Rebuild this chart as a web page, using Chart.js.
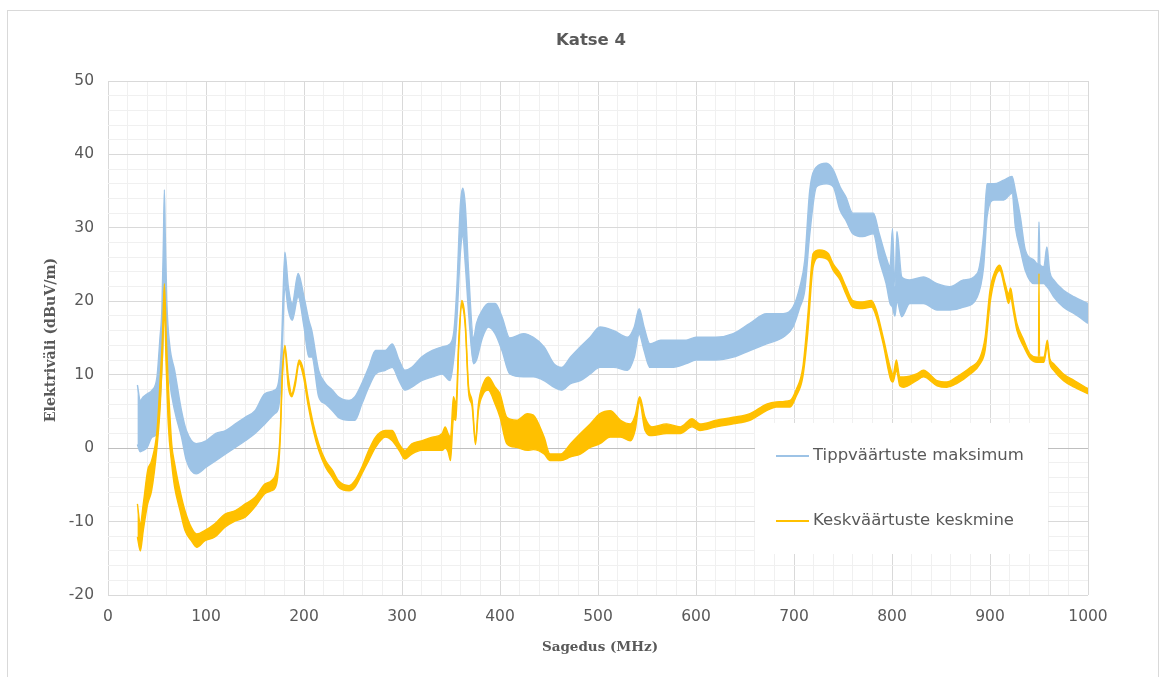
<!DOCTYPE html>
<html>
<head>
<meta charset="utf-8">
<script src="https://cdn.jsdelivr.net/npm/chart.js@4/dist/chart.umd.min.js"></script>
<style>
  html, body { margin: 0; padding: 0; background: #ffffff; }
  #wrap { position: relative; width: 1169px; height: 677px; overflow: hidden; }
  #frame { position: absolute; left: 7px; top: 10px; width: 1152px; height: 700px; border: 1px solid #d9d9d9; box-sizing: border-box; pointer-events: none; }
  canvas { position: absolute; left: 0; top: 0; }
</style>
</head>
<body>
<div id="wrap">
  <canvas id="c" width="1169" height="677"></canvas>
  <div id="frame"></div>
</div>
<script>
// ---------- DATA ----------
const chartTitle = "Katse 4";
const xAxisTitle = "Sagedus (MHz)";
const yAxisTitle = "Elektriväli (dBuV/m)";
const seriesNames = ["Tippväärtuste maksimum", "Keskväärtuste keskmine"];
const xTickLabels = [0, 100, 200, 300, 400, 500, 600, 700, 800, 900, 1000];
const yTickLabels = [-20, -10, 0, 10, 20, 30, 40, 50];

// Series 1: peak values maximum (upper / lower edge of the noisy trace)
const freqMax = [30,33,36,40,45,50,53,55,56.5,57.5,58.5,60,63,68,75,80,90,100,110,120,130,140,150,160,170,174,177,180.5,184,188,194,200,205,208,215,222,229,235,246,252,259,266,273,283,290,297,303,310,320,331,341,349,353,356,359.5,362,364.6,368,373,376,382,388,395,402,410,424,434,445,455,463,472,482,492,502,516,530,537,542,547,553,564,575,590,600,620,638,655,672,689,699,706,711,716,723,733,740,747,753,760,770,781,787,794,798,800.5,803,805,810,818,832,846,859,873,887,893.5,897,904,914,922.5,926,931,936,945,949,950,951,955,958,961,965,975,986,1000];
const maxHigh = [8.6,6.5,7.0,7.4,7.9,9.7,15.0,19.0,28,35.2,28.8,20,14,10.6,5.1,2.4,0.6,1.0,2.0,2.4,3.3,4.2,5.1,7.4,7.9,9,14,26.7,22,19.7,23.8,20.6,17.4,16,10.6,8.8,7.9,7,6.5,7,8.8,11,13.3,13.3,14.2,12,10.6,11,12.4,13.3,13.8,14.2,16,22,33,35.4,33,24,15,17,18.8,19.7,19.7,17.9,15,15.6,15.1,13.8,11.5,11,12.4,13.8,15.1,16.5,16,15.1,16.5,19,16.5,14.2,14.7,14.7,14.7,15.1,15.1,15.6,17,18.3,18.3,19.2,22,25.6,35,38.3,38.8,37.9,35.6,34.2,32,32,32,29.2,26,24.7,29.9,22,29.5,23.3,22.9,23.3,22.4,22,22.9,23.8,29.2,36,36,36.5,37,35,31.5,27,25.6,25,30.8,25,24.7,27.4,24,22.9,21.5,20.6,19.7];
const maxLow  = [0.5,-0.5,-0.3,0.1,1.5,2.0,6.0,10.6,16,25,19.7,14,9,5.1,1.5,-1.7,-3.5,-2.6,-1.7,-0.8,0.1,1.0,2.0,3.3,4.7,5.5,10,22,18.8,17.4,20.6,16.5,12.4,12.4,7,6,5.1,4.2,3.8,3.8,6,8.3,10.1,10.6,11,9.2,7.9,8.3,9.2,9.7,10.1,9.2,12.4,17.4,26.5,29,25,18.3,11.5,12,15,16.5,15.6,13.3,10.1,9.7,9.7,9.2,8.3,7.9,8.8,9.2,10.1,11,11,10.6,12.4,15.5,13.3,11,11,11,11.5,12,12,12.4,13.3,14.2,15.1,16.5,19.2,21.5,29,35.6,36,35.6,32.4,31,29.2,28.8,29.2,25.6,22.4,19.7,19.2,18,20,17.9,19.7,19.7,18.8,18.8,19.2,20.6,24.7,31.5,33.8,33.8,34.7,30,27,24.2,22.4,22.4,22.4,22.4,22.4,22,21.5,20.6,19.2,18.3,17];

// Series 2: average values mean (upper / lower edge of the trace)
const freqAvg = [30,33,36,40.5,44.5,50,53,55.5,57.5,59.5,61.5,65,68,73.5,78.5,85,90.5,99,109,119,130,140,150,160,167,172,175.5,178,180.5,184,187.5,191,195,199.5,204,209.5,215,222,229,235,246,252,259,266,273,283,290,297,303,310,320,331,341,344,347,349.5,352.5,355,358,361,364.5,368,371.5,375,378,383,388,395,400,407,417,428,434,445,451,462,472,482,492,502,512.5,523,533,538,542.5,548,555,570,584,596,604,621,638,655,672,682,696,702,709,714,719.5,726,735,740,747,753,760,770,779,784,791,799,801,804.5,808,812,825,832,846,856,866,880,890,895,900,905.5,910,915.5,919,921,924,927.5,934.5,941,948,949.5,950,950.5,955,958.5,961,965,975,986,1000];
const avgHigh = [-7.6,-10.3,-7.6,-3,-1.7,2.4,8.8,15,22.4,15,8.8,0.6,-2.1,-5.8,-8.5,-10.8,-11.7,-11.2,-10.3,-9,-8.5,-7.6,-6.7,-4.9,-4.4,-3,1.5,10.6,14,9.7,7.4,9.2,12,10.6,7,3.3,0.6,-1.7,-3,-4.4,-5.1,-4.4,-2.6,-0.3,1.5,2.4,2.4,0.6,-0.3,0.6,1,1.5,2,2.9,2,1.5,7,6,15,20.1,17.4,8.3,6.5,1,6,8.8,9.7,8.3,7.4,4.2,3.8,4.7,4.5,1.5,-0.8,-0.8,0.6,2,3.3,4.7,5.1,3.8,3.3,4.5,7,4.2,2.9,3.3,2.9,4,3.3,3.8,4.2,4.7,6,6.3,6.5,7.9,11,17.9,26.5,27,26.5,25.1,23.8,22,20.1,19.9,20.1,18.8,15.1,10.6,10,12,9.7,9.7,10.1,10.6,9.2,9,9.7,11,12.4,15.1,21.5,24.2,24.9,22.4,21,21.8,19.5,17,14.7,12.8,12.4,12.4,23.8,12.4,12.4,14.7,12.2,11.5,10.1,9.2,8.1];
const avgLow  = [-12.1,-14,-11.2,-7.6,-5.8,0.1,5.1,12.4,19,10.6,3.3,-2.1,-5.3,-8.5,-11.2,-12.6,-13.5,-12.6,-12.1,-10.8,-9.9,-9.4,-8,-6.2,-5.8,-4.9,0.5,9.8,13.2,8.3,7,8.5,11.5,9.7,6,2.4,-0.3,-2.6,-4,-5.3,-5.8,-5.3,-3.5,-1.7,0.1,1.5,1,-0.3,-1.5,-0.8,-0.3,-0.3,-0.3,0,-0.5,-1.7,4,3.8,14,19.3,16.6,7.5,5.7,0.5,5.1,7.4,7.9,6,4.2,0.6,0.1,-0.3,-0.2,-0.8,-1.7,-1.7,-1.2,-0.8,0.1,0.6,1.5,1.5,1,2.5,6.2,2.4,1.7,2,2,2.9,2.4,2.9,3.3,3.8,5.1,5.6,5.6,7,9.7,15.6,24.7,26,25.6,24.2,22.9,21,19.2,19,19.2,17.9,14.2,9.2,9,10.6,8.5,8.3,9.2,9.7,8.5,8.3,8.8,10.1,11.5,13.3,19.7,23.3,24.2,21.5,19.7,20.5,18.5,16,13.8,12.2,11.7,11.7,11.7,11.7,11.7,13.8,11.5,10.6,9.2,8.3,7.4];

// ---------- STYLE ----------
const colorMax = "#9dc3e6";
const colorAvg = "#ffc000";
const textColor = "#595959";

function pts(xs, ys) { return xs.map((x, i) => ({ x: x, y: ys[i] })); }

const decorPlugin = {
  id: "decor",
  afterDraw(chart) {
    const ctx = chart.ctx;
    const ca = chart.chartArea;
    ctx.save();
    // chart title
    ctx.fillStyle = textColor;
    ctx.textAlign = "center";
    ctx.textBaseline = "middle";
    ctx.font = "bold 16.5px 'DejaVu Sans'";
    ctx.fillText(chartTitle, 591, 41);
    // axis titles
    ctx.font = "bold 13.5px 'DejaVu Serif'";
    ctx.fillText(xAxisTitle, 600, 647);
    ctx.save();
    ctx.translate(51, 340);
    ctx.rotate(-Math.PI / 2);
    ctx.font = "bold 14.2px 'DejaVu Serif'";
    ctx.fillText(yAxisTitle, 0, 0);
    ctx.restore();
    // legend box
    const bx = 755, by = 423, bw = 293, bh = 131;
    ctx.fillStyle = "#ffffff";
    ctx.fillRect(bx, by, bw, bh);
    const items = [[seriesNames[0], colorMax, 456], [seriesNames[1], colorAvg, 521]];
    ctx.font = "16.5px 'DejaVu Sans'";
    ctx.textAlign = "left";
    items.forEach(([label, col, y]) => {
      ctx.strokeStyle = col;
      ctx.lineWidth = 2;
      ctx.beginPath();
      ctx.moveTo(776, y);
      ctx.lineTo(809, y);
      ctx.stroke();
      ctx.fillStyle = textColor;
      ctx.fillText(label, 813, y);
    });
    ctx.restore();
  }
};

function gridColorY(c) {
  const v = c.tick ? c.tick.value : 0;
  if (Math.abs(v) < 1e-6) return "#bfbfbf";
  if (Math.abs(v % 10) < 1e-6) return "#d9d9d9";
  return "#f0f0f0";
}
function gridColorX(c) {
  const v = c.tick ? c.tick.value : 0;
  if (Math.abs(v % 100) < 1e-6) return "#d9d9d9";
  return "#f0f0f0";
}

new Chart(document.getElementById("c"), {
  type: "line",
  data: {
    datasets: [
      { label: seriesNames[1], data: pts(freqAvg, avgHigh), borderColor: colorAvg, backgroundColor: colorAvg, borderWidth: 1.4, fill: "+1", order: 0 },
      { label: seriesNames[1] + " (low)", data: pts(freqAvg, avgLow), borderColor: colorAvg, backgroundColor: colorAvg, borderWidth: 1.4, fill: false, order: 0 },
      { label: seriesNames[0], data: pts(freqMax, maxHigh), borderColor: colorMax, backgroundColor: colorMax, borderWidth: 1.4, fill: "+1", order: 1 },
      { label: seriesNames[0] + " (low)", data: pts(freqMax, maxLow), borderColor: colorMax, backgroundColor: colorMax, borderWidth: 1.4, fill: false, order: 1 }
    ]
  },
  options: {
    responsive: false,
    animation: false,
    events: [],
    layout: { padding: { top: 81, right: 81, left: 0, bottom: 0 } },
    elements: { point: { radius: 0 }, line: { cubicInterpolationMode: "monotone" } },
    plugins: { legend: { display: false }, title: { display: false }, tooltip: { enabled: false } },
    scales: {
      x: {
        type: "linear", min: 0, max: 1000,
        ticks: {
          stepSize: 20, autoSkip: false, maxRotation: 0, padding: 13,
          color: textColor, font: { family: "DejaVu Sans", size: 15.5 },
          callback: v => xTickLabels.includes(v) ? String(v) : ""
        },
        grid: { color: gridColorX, drawTicks: false, lineWidth: 1 },
        border: { display: false },
        afterFit: s => { s.height = 82; }
      },
      y: {
        type: "linear", min: -20, max: 50,
        ticks: {
          stepSize: 2, autoSkip: false, padding: 14,
          color: textColor, font: { family: "DejaVu Sans", size: 15.5 },
          callback: v => yTickLabels.includes(v) ? String(v) : ""
        },
        grid: { color: gridColorY, drawTicks: false, lineWidth: 1 },
        border: { display: false },
        afterFit: s => { s.width = 108; }
      }
    }
  },
  plugins: [decorPlugin]
});
</script>
</body>
</html>
